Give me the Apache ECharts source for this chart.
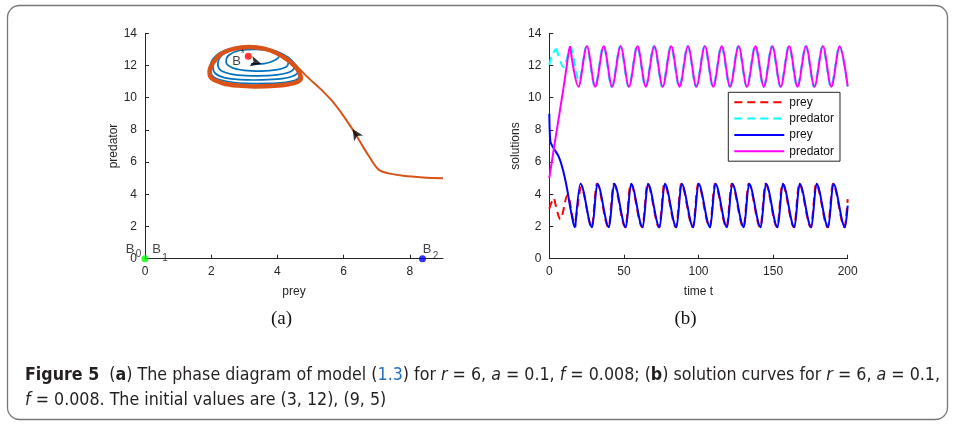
<!DOCTYPE html>
<html><head><meta charset="utf-8">
<script src="https://cdn.jsdelivr.net/npm/echarts@6/dist/echarts.min.js"></script>
<style>
html,body{margin:0;padding:0;background:#fff;width:955px;height:424px;overflow:hidden;}
#chart{position:absolute;left:0;top:0;width:955px;height:424px;}
#cap{position:absolute;left:25px;top:361px;font-family:"Liberation Sans Narrow","DejaVu Sans Condensed","DejaVu Sans",sans-serif;font-stretch:condensed;font-size:18px;color:#231f20;}
#cap .ln{white-space:nowrap;line-height:25px;transform-origin:0 0;display:inline-block;}
#cap .lk{color:#2a6ebb;}
</style></head>
<body>
<div id="chart"></div>
<div id="cap"><div class="ln" id="l1"><b>Figure 5</b>&nbsp; (<b>a</b>) The phase diagram of model (<span class="lk">1.3</span>) for <i>r</i> = 6, <i>a</i> = 0.1, <i>f</i> = 0.008; (<b>b</b>) solution curves for <i>r</i> = 6, <i>a</i> = 0.1,</div><br><div class="ln" id="l2"><i>f</i> = 0.008. The initial values are (3, 12), (9, 5)</div></div>
<script>
// ---------- data ----------
const phaseXTicks = [0, 2, 4, 6, 8];
const yTicks = [0, 2, 4, 6, 8, 10, 12, 14];
const timeTicks = [0, 50, 100, 150, 200];

// phase diagram (prey, predator)
const orangeApproach = [[9.0,5.0],[8.4,5.05],[7.8,5.15],[7.35,5.3],[7.1,5.47],[6.95,5.78],[6.8,6.25],[6.6,6.9],[6.4,7.6],[6.2,8.25],[5.95,9.0],[5.65,9.8],[5.3,10.55],[4.95,11.2],[4.7,11.7],[4.45,12.2],[4.1,12.7],[3.6,13.05],[3.15,13.15]];
const orangeCycle = [[3.3,10.7],[3.9,10.74],[4.35,10.84],[4.6,10.98],[4.71,11.22],[4.66,11.55],[4.55,11.9],[4.33,12.32],[4.0,12.75],[3.6,13.05],[3.15,13.15],[2.7,13.05],[2.3,12.72],[2.05,12.15],[1.95,11.6],[2.02,11.2],[2.35,10.9],[2.8,10.75],[3.3,10.7],[3.9,10.74]];
const blueSpiral = [[3.2,12.1],[3.6,12.12],[3.92,12.32],[4.05,12.6],[3.85,12.88],[3.35,13.0],[2.85,12.93],[2.52,12.62],[2.45,12.22],[2.62,11.88],[3.0,11.7],[3.5,11.65],
 [4.0,11.74],[4.3,11.98],[4.33,12.38],[4.08,12.78],[3.62,13.04],[3.12,13.09],[2.62,12.97],[2.3,12.6],[2.2,12.05],[2.35,11.62],[2.8,11.4],[3.4,11.35],
 [4.0,11.42],[4.4,11.62],[4.52,12.0],[4.33,12.5],[3.95,12.9],[3.5,13.1],[3.05,13.13],[2.55,13.0],[2.2,12.62],[2.05,12.05],[2.12,11.52],[2.55,11.18],[3.3,11.1],
 [4.0,11.15],[4.45,11.33],[4.62,11.65],[4.5,12.15],[4.15,12.65],[3.65,13.05],[3.1,13.15],[2.55,13.02],[2.15,12.62],[1.98,12.0],[2.02,11.4],[2.45,11.02],[3.3,10.88],
 [4.0,10.9],[4.48,11.05],[4.66,11.3],[4.6,11.72],[4.4,12.22]];
const arrowPoints = [[6.27,8.05],[3.52,12.1]];
const arrowAngles = [33, -105];
const eqB0 = [0, 0];
const eqB2 = [8.38, 0];
const eqBstar = [3.12, 12.57];

// time series
const preyDashedStart = [[0,3.1],[1.5,3.5],[3.4,3.7]];
const preyDashedCycle = [[3.4,3.7],[7.4,2.45],[12.3,3.95],[16.9,2.25],[21.4,4.45],[28.4,1.95],[31.9,4.65],[39.7,1.95],[43.2,4.65],[51.0,1.95],[54.5,4.65],[62.3,1.95],[65.8,4.65],[73.6,1.95],[77.1,4.65],[84.9,1.95],[88.4,4.65],[96.2,1.95],[99.7,4.65],[107.5,1.95],[111.0,4.65],[118.8,1.95],[122.3,4.65],[130.1,1.95],[133.6,4.65],[141.4,1.95],[144.9,4.65],[152.7,1.95],[156.2,4.65],[164.0,1.95],[167.5,4.65],[175.3,1.95],[178.8,4.65],[186.6,1.95],[190.1,4.65],[197.9,1.95],[200,3.7]];
const predDashedStart = [[0,12.05],[2,12.7],[4.8,13.05]];
const predDashedCycle = [[4.8,13.05],[9.6,11.9],[14.4,13.1],[19.8,11.05],[24.9,13.2],[30.5,10.7],[36.2,13.2],[41.8,10.68],[47.5,13.2],[53.1,10.68],[58.8,13.2],[64.4,10.68],[70.1,13.2],[75.7,10.68],[81.4,13.2],[87.0,10.68],[92.7,13.2],[98.3,10.68],[104.0,13.2],[109.6,10.68],[115.3,13.2],[120.9,10.68],[126.6,13.2],[132.2,10.68],[137.9,13.2],[143.5,10.68],[149.2,13.2],[154.8,10.68],[160.5,13.2],[166.1,10.68],[171.8,13.2],[177.4,10.68],[183.1,13.2],[188.7,10.68],[194.4,13.2],[200,10.68]];
const preySolidStart = [[0,9.0],[0.3,7.9],[0.8,7.25],[2,7.0],[4,6.7],[6,6.4],[8,5.9],[10,5.2],[12,4.3],[14,3.2],[16,2.25],[17.0,1.98],[17.4,1.95]];
const preySolidCycle = [[17.4,1.95],[20.9,4.65],[28.7,1.95],[32.2,4.65],[40.0,1.95],[43.5,4.65],[51.3,1.95],[54.8,4.65],[62.6,1.95],[66.1,4.65],[73.9,1.95],[77.4,4.65],[85.2,1.95],[88.7,4.65],[96.5,1.95],[100.0,4.65],[107.8,1.95],[111.3,4.65],[119.1,1.95],[122.6,4.65],[130.4,1.95],[133.9,4.65],[141.7,1.95],[145.2,4.65],[153.0,1.95],[156.5,4.65],[164.3,1.95],[167.8,4.65],[175.6,1.95],[179.1,4.65],[186.9,1.95],[190.4,4.65],[198.2,1.95],[200,3.3]];
const predSolidStart = [[0,5.0],[3,6.8],[6,8.55],[9,10.3],[11.5,11.85],[13,12.85],[13.9,13.2]];
const predSolidCycle = [[13.9,13.2],[19.5,10.68],[25.2,13.2],[30.8,10.68],[36.5,13.2],[42.1,10.68],[47.8,13.2],[53.4,10.68],[59.1,13.2],[64.7,10.68],[70.4,13.2],[76.0,10.68],[81.7,13.2],[87.3,10.68],[93.0,13.2],[98.6,10.68],[104.3,13.2],[109.9,10.68],[115.6,13.2],[121.2,10.68],[126.9,13.2],[132.5,10.68],[138.2,13.2],[143.8,10.68],[149.5,13.2],[155.1,10.68],[160.8,13.2],[166.4,10.68],[172.1,13.2],[177.7,10.68],[183.4,13.2],[189.0,10.68],[194.7,13.2],[200,10.7]];

const legendNames = ['prey_d', 'pred_d', 'prey_s', 'pred_s'];
const legendLabels = {prey_d: 'prey', pred_d: 'predator', prey_s: 'prey', pred_s: 'predator'};

// ---------- chart ----------
const FONT = '"Liberation Sans", Arial, Helvetica, sans-serif';
const AX = '#262626';
function xAxisCfg(grid, min, max, interval, ticks, name) {
  return {
    type: 'value', gridIndex: grid, min: min, max: max, interval: interval,
    name: name, nameLocation: 'middle', nameGap: 27,
    nameTextStyle: {color: AX, fontSize: 12, fontFamily: FONT},
    axisLine: {show: true, onZero: false, lineStyle: {color: AX, width: 1}},
    axisTick: {show: true, inside: true, length: 4, customValues: ticks, lineStyle: {color: AX}},
    axisLabel: {color: AX, fontSize: 12, fontFamily: FONT, margin: 7, customValues: ticks},
    splitLine: {show: false}
  };
}
function yAxisCfg(grid, name, gap) {
  return {
    type: 'value', gridIndex: grid, min: 0, max: 14, interval: 2,
    name: name, nameLocation: 'middle', nameGap: gap,
    nameTextStyle: {color: AX, fontSize: 12, fontFamily: FONT},
    axisLine: {show: true, onZero: false, lineStyle: {color: AX, width: 1}},
    axisTick: {show: true, inside: true, length: 4, customValues: yTicks, lineStyle: {color: AX}},
    axisLabel: {color: AX, fontSize: 12, fontFamily: FONT, margin: 8, customValues: yTicks},
    splitLine: {show: false}
  };
}
function tsLine(name, data, color, dashed, monotone) {
  return {
    type: 'line', name: name, xAxisIndex: 1, yAxisIndex: 1, data: data,
    symbol: 'none', showSymbol: false, smooth: monotone ? 0.33 : 0.3,
    smoothMonotone: monotone ? 'x' : null,
    lineStyle: {color: color, width: 2, type: dashed ? [8, 5] : 'solid'},
    itemStyle: {color: color, opacity: 0}, animation: false, z: dashed ? 2 : 3
  };
}
function lbl(text, off, size) {
  return {show: true, formatter: text, offset: off, position: 'inside', color: '#111', fontSize: size, fontFamily: FONT};
}

const chart = echarts.init(document.getElementById('chart'), null, {renderer: 'canvas'});
chart.setOption({
  animation: false,
  backgroundColor: '#fff',
  grid: [
    {left: 145, top: 33.3, width: 298, height: 225.4, outerBoundsMode: 'none', containLabel: false},
    {left: 549.3, top: 33.3, width: 298.4, height: 225.4, outerBoundsMode: 'none', containLabel: false}
  ],
  xAxis: [xAxisCfg(0, 0, 9, 2, phaseXTicks, 'prey'), xAxisCfg(1, 0, 200, 50, timeTicks, 'time t')],
  yAxis: [yAxisCfg(0, 'predator', 25.5), yAxisCfg(1, 'solutions', 28)],
  legend: {
    data: legendNames, formatter: function (n) { return legendLabels[n]; },
    orient: 'vertical', left: 728.3, top: 92.3, itemWidth: 50, itemHeight: 12, itemGap: 4.3,
    padding: [4, 6, 4, 5], borderColor: AX, borderWidth: 1, backgroundColor: '#fff',
    itemStyle: {opacity: 0, borderWidth: 0},
    textStyle: {color: '#111', fontSize: 12, fontFamily: FONT}, selectedMode: false
  },
  graphic: [
    {type: 'rect', shape: {x: 7.5, y: 5.5, width: 940, height: 414, r: 12}, style: {fill: 'none', stroke: '#777', lineWidth: 1.3}, silent: true, z: -1},
    {type: 'text', style: {text: '(a)', x: 281.5, y: 319, align: 'center', verticalAlign: 'middle', fontSize: 19, fontFamily: '"Liberation Serif", "DejaVu Serif", serif', fill: '#111'}},
    {type: 'text', style: {text: '(b)', x: 685.5, y: 319, align: 'center', verticalAlign: 'middle', fontSize: 19, fontFamily: '"Liberation Serif", "DejaVu Serif", serif', fill: '#111'}}
  ],
  series: [
    {type: 'line', name: 'spiral', data: blueSpiral, smooth: 0.35, symbol: 'none', lineStyle: {color: '#0072bd', width: 1.7}, z: 2},
    {type: 'line', name: 'cycle', data: orangeCycle, smooth: 0.35, symbol: 'none', lineStyle: {color: '#d95319', width: 4.5}, z: 3},
    {type: 'line', name: 'approach', data: orangeApproach, smooth: 0.35, symbol: 'none', lineStyle: {color: '#d95319', width: 2}, z: 3},
    {type: 'scatter', name: 'arrows', clip: false, z: 5,
      data: arrowPoints.map(function (p, i) { return {value: p, symbolRotate: arrowAngles[i]}; }),
      symbol: 'arrow', symbolSize: [8, 11], itemStyle: {color: '#000'}},
    {type: 'scatter', name: 'eq', clip: false, z: 6, symbolSize: 7,
      data: [{value: eqB0, itemStyle: {color: '#00ff00'}}, {value: eqB2, itemStyle: {color: '#0000ff'}}, {value: eqBstar, itemStyle: {color: '#ff0000'}}]},
    {type: 'scatter', name: 'labels', clip: false, z: 7, symbolSize: 0, silent: true,
      data: [
        {value: eqB0, label: lbl('B', [-15, -9.7], 13)},
        {value: eqB0, label: lbl('0', [-6.5, -4.5], 10)},
        {value: eqB0, label: lbl('B', [11.5, -9.7], 13)},
        {value: eqB0, label: lbl('1', [20, -0.7], 10)},
        {value: eqB2, label: lbl('B', [4.5, -9.7], 13)},
        {value: eqB2, label: lbl('2', [13, -2.5], 10)},
        {value: eqBstar, label: lbl('B', [-11.6, 5], 13)},
        {value: eqBstar, label: lbl('*', [-5.5, -2.5], 10)}
      ]},
    tsLine('prey_d', preyDashedStart, '#ff0000', true, false),
    tsLine('prey_d', preyDashedCycle, '#ff0000', true, true),
    tsLine('pred_d', predDashedStart, '#00ffff', true, false),
    tsLine('pred_d', predDashedCycle, '#00ffff', true, true),
    tsLine('prey_s', preySolidStart, '#0000ff', false, false),
    tsLine('prey_s', preySolidCycle, '#0000ff', false, true),
    tsLine('pred_s', predSolidStart, '#ff00ff', false, false),
    tsLine('pred_s', predSolidCycle, '#ff00ff', false, true)
  ]
});

// caption width fit
(function () {
  const l1 = document.getElementById('l1'), l2 = document.getElementById('l2');
  const w = l1.getBoundingClientRect().width;
  const s = 915 / w;
  l1.style.transform = 'scaleX(' + s + ')';
  l2.style.transform = 'scaleX(' + s + ')';
})();
</script>
</body></html>
